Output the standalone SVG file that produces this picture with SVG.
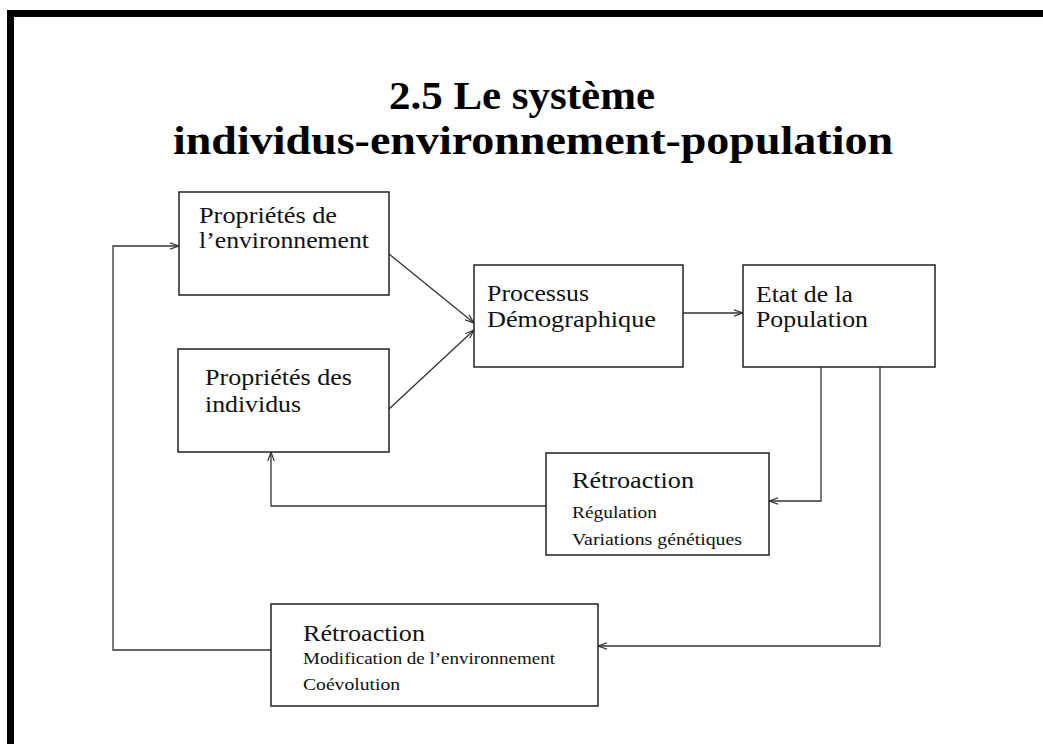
<svg xmlns="http://www.w3.org/2000/svg" width="1043" height="744" viewBox="0 0 1043 744">
  <style>
    .box { fill: #fff; stroke: #222; stroke-width: 1.5; }
    .lbl { font-family: 'Liberation Serif', 'Times New Roman', serif; font-size: 23px; fill: #111; }
    .sub { font-family: 'Liberation Serif', 'Times New Roman', serif; font-size: 16px; fill: #111; }
    .title { font-family: 'Liberation Serif', 'Times New Roman', serif; font-size: 41px; font-weight: bold; fill: #000; }
    .wire { fill: none; stroke: #333; stroke-width: 1.3; }
  </style>
  <defs>
    <marker id="arrow" viewBox="0 0 10 8" refX="9" refY="4" markerWidth="10" markerHeight="8" markerUnits="userSpaceOnUse" orient="auto">
      <path d="M0,0.8 L9,4 L0,7.2" fill="none" stroke="#333" stroke-width="1.2"/>
    </marker>
  </defs>

  <rect width="1043" height="744" fill="#fff"/>

  <!-- page frame: left and top bars -->
  <rect x="7" y="10" width="7" height="734" fill="#000"/>
  <rect x="7" y="10" width="1036" height="7" fill="#000"/>

  <!-- title -->
  <text class="title" x="389" y="109" textLength="266" lengthAdjust="spacingAndGlyphs">2.5 Le système</text>
  <text class="title" x="173" y="154" textLength="720" lengthAdjust="spacingAndGlyphs">individus-environnement-population</text>

  <!-- connectors -->
  <g id="connectors">
    <path class="wire" d="M389,254 L474,323" marker-end="url(#arrow)"/>
    <path class="wire" d="M389,409 L474,330" marker-end="url(#arrow)"/>
    <path class="wire" d="M683,313 L743,313" marker-end="url(#arrow)"/>
    <path class="wire" d="M821,367 L821,501 L769,501" marker-end="url(#arrow)"/>
    <path class="wire" d="M546,506 L271,506 L271,452" marker-end="url(#arrow)"/>
    <path class="wire" d="M880,367 L880,646 L598,646" marker-end="url(#arrow)" stroke="#555" stroke-width="1.6"/>
    <path class="wire" d="M271,650 L113,650 L113,246 L179,246" marker-end="url(#arrow)"/>
  </g>

  <!-- nodes -->
  <g id="env">
    <rect class="box" x="179" y="192" width="210" height="103"/>
    <text class="lbl" x="199" y="223" textLength="138" lengthAdjust="spacingAndGlyphs">Propriétés de</text>
    <text class="lbl" x="199" y="248" textLength="170" lengthAdjust="spacingAndGlyphs">l’environnement</text>
  </g>

  <g id="ind">
    <rect class="box" x="178" y="349" width="211" height="103"/>
    <text class="lbl" x="205" y="385" textLength="147" lengthAdjust="spacingAndGlyphs">Propriétés des</text>
    <text class="lbl" x="205" y="412" textLength="96" lengthAdjust="spacingAndGlyphs">individus</text>
  </g>

  <g id="proc">
    <rect class="box" x="474" y="265" width="209" height="102"/>
    <text class="lbl" x="487" y="301" textLength="102" lengthAdjust="spacingAndGlyphs">Processus</text>
    <text class="lbl" x="487" y="327" textLength="169" lengthAdjust="spacingAndGlyphs">Démographique</text>
  </g>

  <g id="etat">
    <rect class="box" x="743" y="265" width="192" height="102"/>
    <text class="lbl" x="756" y="302" textLength="97" lengthAdjust="spacingAndGlyphs">Etat de la</text>
    <text class="lbl" x="756" y="327" textLength="112" lengthAdjust="spacingAndGlyphs">Population</text>
  </g>

  <g id="retro1">
    <rect class="box" x="546" y="453" width="223" height="102"/>
    <text class="lbl" x="572" y="488" textLength="122" lengthAdjust="spacingAndGlyphs">Rétroaction</text>
    <text class="sub" x="572" y="518" textLength="85" lengthAdjust="spacingAndGlyphs">Régulation</text>
    <text class="sub" x="572" y="545" textLength="170" lengthAdjust="spacingAndGlyphs">Variations génétiques</text>
  </g>

  <g id="retro2">
    <rect class="box" x="271" y="604" width="327" height="102"/>
    <text class="lbl" x="303" y="641" textLength="122" lengthAdjust="spacingAndGlyphs">Rétroaction</text>
    <text class="sub" x="303" y="664" textLength="252" lengthAdjust="spacingAndGlyphs">Modification de l’environnement</text>
    <text class="sub" x="303" y="690" textLength="97" lengthAdjust="spacingAndGlyphs">Coévolution</text>
  </g>
</svg>
